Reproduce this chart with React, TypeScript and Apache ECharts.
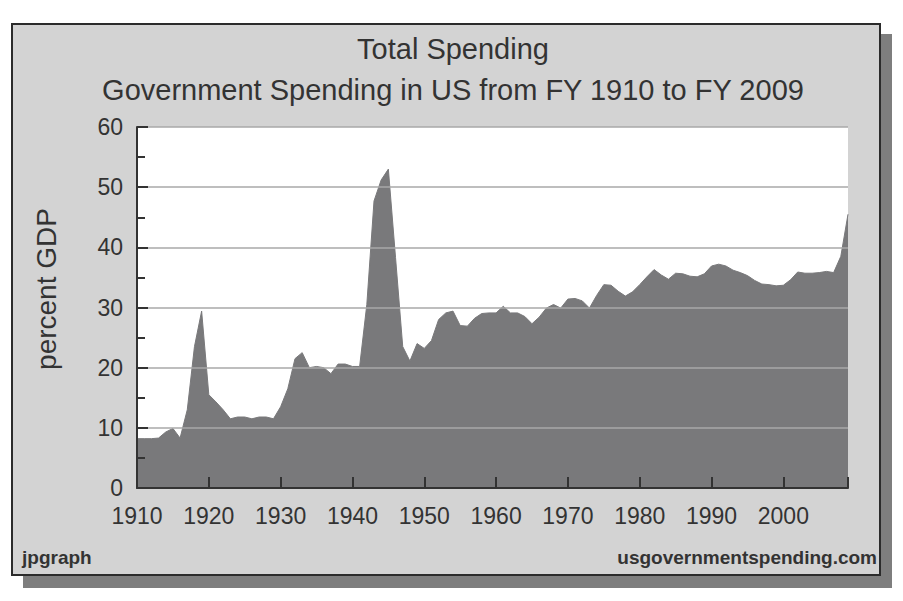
import React, { useEffect, useRef } from "react";
import * as echarts from "echarts";

const titleText = "Total Spending";
const subtitleText = "Government Spending in US from FY 1910 to FY 2009";
const yAxisName = "percent GDP";
const leftFooter = "jpgraph";
const rightFooter = "usgovernmentspending.com";

const firstYear = 1910;
const lastYear = 2009;
const decadeTicks = [1910, 1920, 1930, 1940, 1950, 1960, 1970, 1980, 1990, 2000];

// Total government spending, percent of GDP, FY1910..FY2009
const spending1910s = [8.2, 8.2, 8.2, 8.3, 9.3, 9.9, 8.3, 13.0, 23.5, 29.4];
const spending1920s = [15.5, 14.3, 13.0, 11.5, 11.8, 11.8, 11.5, 11.8, 11.8, 11.5];
const spending1930s = [13.5, 16.5, 21.5, 22.5, 20.0, 20.2, 20.0, 19.0, 20.6, 20.6];
const spending1940s = [20.2, 20.2, 30.5, 47.7, 51.2, 53.0, 38.3, 23.5, 21.1, 24.0];
const spending1950s = [23.2, 24.5, 28.0, 29.1, 29.4, 27.0, 26.9, 28.2, 29.0, 29.1];
const spending1960s = [29.1, 30.2, 29.1, 29.1, 28.5, 27.3, 28.4, 29.9, 30.5, 29.9];
const spending1970s = [31.4, 31.5, 31.1, 29.9, 32.0, 33.8, 33.7, 32.7, 31.9, 32.6];
const spending1980s = [33.8, 35.1, 36.3, 35.4, 34.7, 35.7, 35.6, 35.2, 35.1, 35.6];
const spending1990s = [36.9, 37.2, 36.9, 36.2, 35.8, 35.3, 34.5, 33.9, 33.8, 33.6];
const spending2000s = [33.7, 34.6, 35.9, 35.7, 35.7, 35.8, 36.0, 35.8, 38.5, 45.5];

const spending = [
  ...spending1910s,
  ...spending1920s,
  ...spending1930s,
  ...spending1940s,
  ...spending1950s,
  ...spending1960s,
  ...spending1970s,
  ...spending1980s,
  ...spending1990s,
  ...spending2000s,
];

const FONT = "'Liberation Sans', Arial, Helvetica, sans-serif";
const INK = "#333333";

export default function App() {
  const ref = useRef<HTMLDivElement>(null);

  useEffect(() => {
    if (!ref.current) return;
    const chart = echarts.init(ref.current, undefined, { renderer: "svg" });
    const data = spending.map((v, i) => [firstYear + i, v]);

    chart.setOption({
      animation: false,
      backgroundColor: "#ffffff",
      grid: {
        left: 137,
        top: 127,
        width: 711,
        height: 361,
        show: true,
        backgroundColor: "#ffffff",
        borderWidth: 0,
      },
      xAxis: {
        type: "value",
        min: firstYear,
        max: lastYear,
        interval: 10,
        z: 5,
        axisLine: { show: true, onZero: false, lineStyle: { color: INK, width: 2 } },
        axisTick: {
          show: true,
          inside: true,
          length: 11,
          lineStyle: { color: INK, width: 2 },
        },
        axisLabel: {
          show: true,
          customValues: decadeTicks,
          formatter: (v: number) => String(v),
          fontSize: 23,
          fontFamily: FONT,
          color: INK,
          margin: 16,
        },
        splitLine: { show: false },
      },
      yAxis: {
        type: "value",
        min: 0,
        max: 60,
        interval: 10,
        z: 5,
        axisLine: { show: true, onZero: false, lineStyle: { color: INK, width: 2 } },
        axisTick: { show: true, inside: true, length: 11, lineStyle: { color: INK, width: 2 } },
        minorTick: { show: true, splitNumber: 2, length: 8, lineStyle: { color: INK, width: 2 } },
        axisLabel: {
          show: true,
          fontSize: 23,
          fontFamily: FONT,
          color: INK,
          margin: 14,
        },
        splitLine: { show: true, lineStyle: { color: "#a9a9a9", width: 1.5 } },
      },
      series: [
        {
          type: "line",
          data,
          symbol: "none",
          lineStyle: { width: 1, color: "#79797b" },
          areaStyle: { color: "#79797b", opacity: 1 },
          z: 2,
        },
      ],
      graphic: [
        {
          type: "rect",
          z: -20,
          shape: { x: 23, y: 34, width: 869, height: 554 },
          style: { fill: "#7e7e7e" },
        },
        {
          type: "rect",
          z: -10,
          shape: { x: 12, y: 24, width: 868, height: 551 },
          style: { fill: "#d3d3d3", stroke: "#2b2b2b", lineWidth: 2 },
        },
        {
          type: "text",
          z: 10,
          x: 453,
          y: 49,
          style: {
            text: titleText,
            fontSize: 29,
            fontFamily: FONT,
            fill: INK,
            align: "center",
            verticalAlign: "middle",
          },
        },
        {
          type: "text",
          z: 10,
          x: 453,
          y: 90,
          style: {
            text: subtitleText,
            fontSize: 29,
            fontFamily: FONT,
            fill: INK,
            align: "center",
            verticalAlign: "middle",
          },
        },
        {
          type: "text",
          z: 10,
          x: 46,
          y: 289,
          rotation: Math.PI / 2,
          style: {
            text: yAxisName,
            fontSize: 28,
            fontFamily: FONT,
            fill: INK,
            align: "center",
            verticalAlign: "middle",
          },
        },
        {
          type: "text",
          z: 10,
          x: 22,
          y: 557,
          style: {
            text: leftFooter,
            fontSize: 19,
            fontWeight: "bold",
            fontFamily: FONT,
            fill: INK,
            align: "left",
            verticalAlign: "middle",
          },
        },
        {
          type: "text",
          z: 10,
          x: 877,
          y: 557,
          style: {
            text: rightFooter,
            fontSize: 19,
            fontWeight: "bold",
            fontFamily: FONT,
            fill: INK,
            align: "right",
            verticalAlign: "middle",
          },
        },
      ],
    });

    return () => {
      chart.dispose();
    };
  }, []);

  return (
    <div
      ref={ref}
      style={{ position: "fixed", left: 0, top: 0, width: 903, height: 601 }}
    />
  );
}
